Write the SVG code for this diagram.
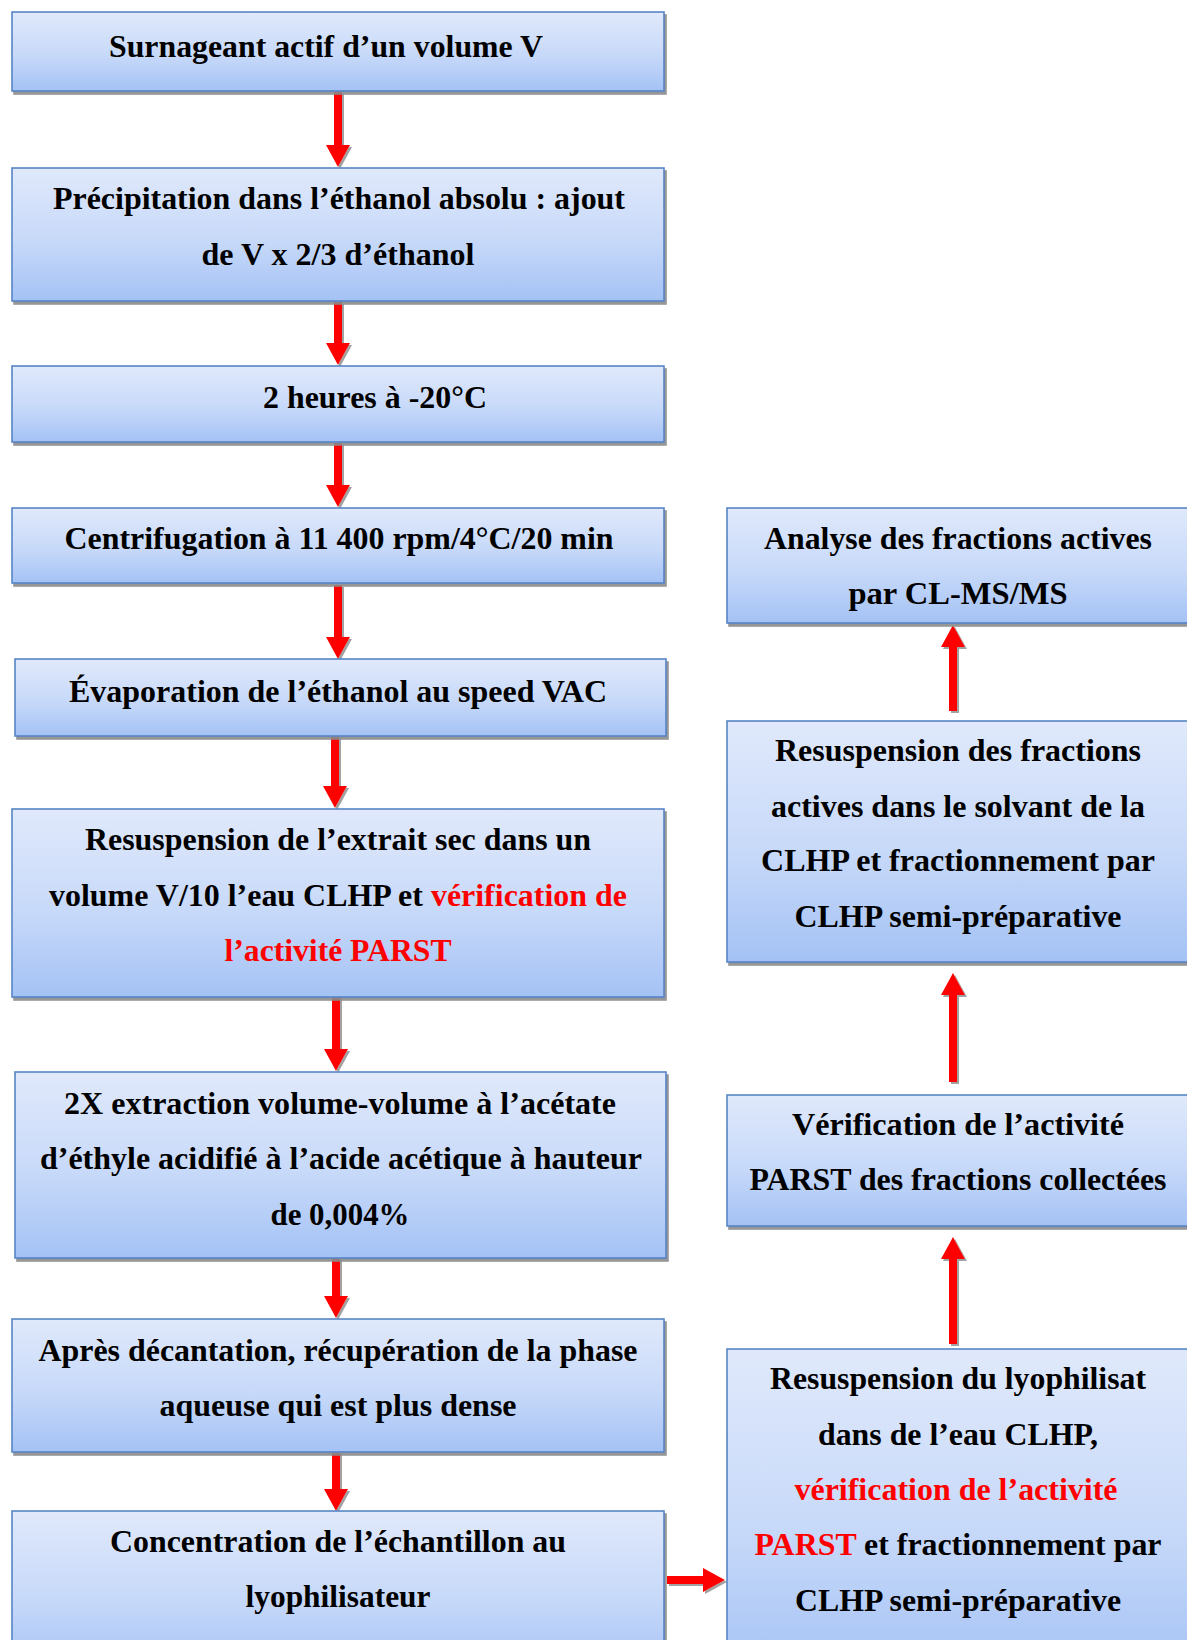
<svg xmlns="http://www.w3.org/2000/svg" width="1187" height="1640" viewBox="0 0 1187 1640">
<defs>
<linearGradient id="g" x1="0" y1="0" x2="0" y2="1">
<stop offset="0" stop-color="#e0e9fb"/>
<stop offset="0.55" stop-color="#c7d9f9"/>
<stop offset="1" stop-color="#a4c2f5"/>
</linearGradient>
<filter id="sh" x="-5%" y="-5%" width="110%" height="115%">
<feDropShadow dx="2" dy="3" stdDeviation="0.6" flood-color="#8a8a8a" flood-opacity="0.9"/>
</filter>
<filter id="ash" x="-50%" y="-10%" width="200%" height="120%">
<feDropShadow dx="2" dy="2" stdDeviation="0.6" flood-color="#8a8a8a" flood-opacity="0.8"/>
</filter>
</defs>
<style>
.box{fill:url(#g);stroke:#5685c6;stroke-width:1.6;filter:url(#sh)}
text{font-family:"Liberation Serif","Times New Roman",serif;font-weight:bold;font-size:32px;fill:#000;text-anchor:middle}
.r{fill:#ff0000}
.ar{fill:#ff0000;filter:url(#ash)}
</style>
<rect width="1187" height="1640" fill="#ffffff"/>

<g id="connectors">
<polygon class="ar" points="334,92 342,92 342,145 350,145 338,167 326,145 334,145"/>
<polygon class="ar" points="334,302 342,302 342,343 350,343 338,365 326,343 334,343"/>
<polygon class="ar" points="334,443 342,443 342,485 350,485 338,507 326,485 334,485"/>
<polygon class="ar" points="334,585 342,585 342,637 350,637 338,659 326,637 334,637"/>
<polygon class="ar" points="331,736 339,736 339,786 347,786 335,808 323,786 331,786"/>
<polygon class="ar" points="332,994 340,994 340,1049 348,1049 336,1071 324,1049 332,1049"/>
<polygon class="ar" points="332,1258 340,1258 340,1296 348,1296 336,1318 324,1296 332,1296"/>
<polygon class="ar" points="332,1452 340,1452 340,1489 348,1489 336,1511 324,1489 332,1489"/>
<polygon class="ar" points="667,1576 703,1576 703,1568 725,1580 703,1592 703,1584 667,1584"/>
<polygon class="ar" points="949,1344 957,1344 957,1259 965,1259 953,1237 941,1259 949,1259"/>
<polygon class="ar" points="949,1082 957,1082 957,995 965,995 953,973 941,995 949,995"/>
<polygon class="ar" points="949,711 957,711 957,647 965,647 953,625 941,647 949,647"/>
</g>

<g id="n1"><rect class="box" x="12" y="12" width="652" height="79"/>
<text x="326" y="57" textLength="434" lengthAdjust="spacingAndGlyphs">Surnageant actif d’un volume V</text></g>

<g id="n2"><rect class="box" x="12" y="168" width="652" height="133"/>
<text x="339" y="209" textLength="572" lengthAdjust="spacingAndGlyphs">Précipitation dans l’éthanol absolu : ajout</text>
<text x="338" y="265" textLength="273" lengthAdjust="spacingAndGlyphs">de V x 2/3 d’éthanol</text></g>

<g id="n3"><rect class="box" x="12" y="366" width="652" height="76"/>
<text x="375" y="408" textLength="224" lengthAdjust="spacingAndGlyphs">2 heures à -20°C</text></g>

<g id="n4"><rect class="box" x="12" y="508" width="652" height="75"/>
<text x="339" y="549" textLength="549" lengthAdjust="spacingAndGlyphs">Centrifugation à 11 400 rpm/4°C/20 min</text></g>

<g id="n5"><rect class="box" x="15" y="659" width="651" height="77"/>
<text x="338" y="702" textLength="538" lengthAdjust="spacingAndGlyphs">Évaporation de l’éthanol au speed VAC</text></g>

<g id="n6"><rect class="box" x="12" y="809" width="652" height="188"/>
<text x="338" y="850" textLength="506" lengthAdjust="spacingAndGlyphs">Resuspension de l’extrait sec dans un</text>
<text x="338" y="906" textLength="578" lengthAdjust="spacingAndGlyphs">volume V/10 l’eau CLHP et <tspan class="r">vérification de</tspan></text>
<text x="338" y="961" textLength="227" lengthAdjust="spacingAndGlyphs" class="r">l’activité PARST</text></g>

<g id="n7"><rect class="box" x="15" y="1072" width="651" height="186"/>
<text x="340" y="1114" textLength="552" lengthAdjust="spacingAndGlyphs">2X extraction volume-volume à l’acétate</text>
<text x="341" y="1169" textLength="602" lengthAdjust="spacingAndGlyphs">d’éthyle acidifié à l’acide acétique à hauteur</text>
<text x="340" y="1225" textLength="139" lengthAdjust="spacingAndGlyphs">de 0,004%</text></g>

<g id="n8"><rect class="box" x="12" y="1319" width="652" height="133"/>
<text x="338" y="1361" textLength="599" lengthAdjust="spacingAndGlyphs">Après décantation, récupération de la phase</text>
<text x="338" y="1416" textLength="357" lengthAdjust="spacingAndGlyphs">aqueuse qui est plus dense</text></g>

<g id="n9"><rect class="box" x="12" y="1511" width="652" height="160"/>
<text x="338" y="1552" textLength="456" lengthAdjust="spacingAndGlyphs">Concentration de l’échantillon au</text>
<text x="338" y="1607" textLength="185" lengthAdjust="spacingAndGlyphs">lyophilisateur</text></g>

<g id="n10"><rect class="box" x="727" y="1349" width="480" height="330"/>
<text x="958" y="1389" textLength="376" lengthAdjust="spacingAndGlyphs">Resuspension du lyophilisat</text>
<text x="958" y="1445" textLength="280" lengthAdjust="spacingAndGlyphs">dans de l’eau CLHP,</text>
<text x="956" y="1500" textLength="323" lengthAdjust="spacingAndGlyphs" class="r">vérification de l’activité</text>
<text x="958" y="1555" textLength="407" lengthAdjust="spacingAndGlyphs"><tspan class="r">PARST</tspan> et fractionnement par</text>
<text x="958" y="1611" textLength="326" lengthAdjust="spacingAndGlyphs">CLHP semi-préparative</text></g>

<g id="n11"><rect class="box" x="727" y="1095" width="480" height="131"/>
<text x="958" y="1135" textLength="332" lengthAdjust="spacingAndGlyphs">Vérification de l’activité</text>
<text x="958" y="1190" textLength="417" lengthAdjust="spacingAndGlyphs">PARST des fractions collectées</text></g>

<g id="n12"><rect class="box" x="727" y="721" width="480" height="241"/>
<text x="958" y="761" textLength="366" lengthAdjust="spacingAndGlyphs">Resuspension des fractions</text>
<text x="958" y="817" textLength="374" lengthAdjust="spacingAndGlyphs">actives dans le solvant de la</text>
<text x="958" y="871" textLength="394" lengthAdjust="spacingAndGlyphs">CLHP et fractionnement par</text>
<text x="958" y="927" textLength="327" lengthAdjust="spacingAndGlyphs">CLHP semi-préparative</text></g>

<g id="n13"><rect class="box" x="727" y="508" width="480" height="115"/>
<text x="958" y="549" textLength="388" lengthAdjust="spacingAndGlyphs">Analyse des fractions actives</text>
<text x="958" y="604" textLength="219" lengthAdjust="spacingAndGlyphs">par CL-MS/MS</text></g>
</svg>
